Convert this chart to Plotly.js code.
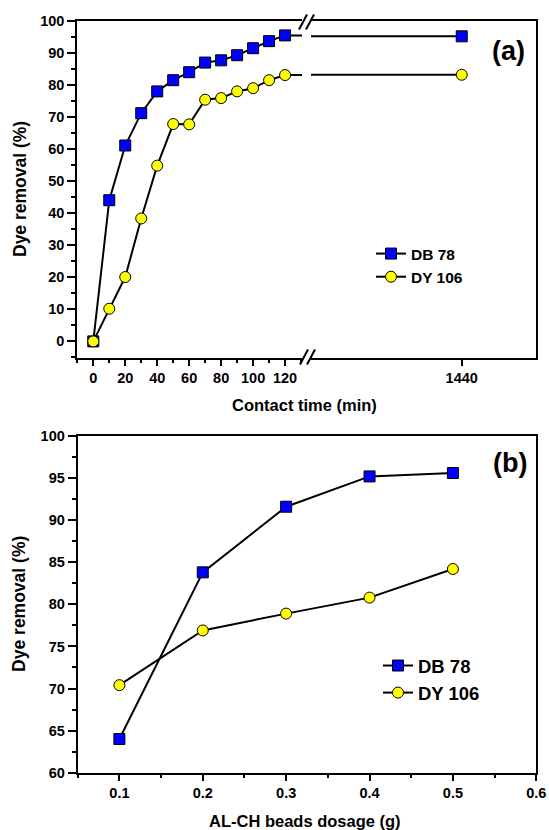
<!DOCTYPE html>
<html>
<head>
<meta charset="utf-8">
<script src="https://cdn.plot.ly/plotly-3.0.1.min.js"></script>
<style>html,body{margin:0;padding:0;background:#fff;}#chart{width:549px;height:830px;}</style>
</head>
<body>
<div id="chart"></div>
<script>
// ---- data ----
const contactTime = [0, 10, 20, 30, 40, 50, 60, 70, 80, 90, 100, 110, 120, 1440];
const db78Time   = [0, 44.1, 61.2, 71.3, 78.1, 81.6, 84.1, 87.1, 87.8, 89.4, 91.6, 93.8, 95.6, 95.3];
const dy106Time  = [0, 10.2, 20.1, 38.4, 54.9, 67.9, 67.8, 75.5, 76.0, 78.1, 79.1, 81.6, 83.2, 83.3];
const dosage     = [0.1, 0.2, 0.3, 0.4, 0.5];
const db78Dose   = [64.0, 83.8, 91.6, 95.2, 95.6];
const dy106Dose  = [70.4, 76.9, 78.9, 80.8, 84.2];
const seriesNames = ['DB 78', 'DY 106'];
const timeTicksLeft = [0, 20, 40, 60, 80, 100, 120];
const timeTicksRight = [1440];

// ---- layout helpers ----
const W = 549, H = 830;
const px = v => v / W;
const py = v => 1 - v / H;
const FONT = 'Liberation Sans, Arial, Helvetica, sans-serif';
const BLUE = '#0000ff', YEL = '#ffff00';

function styleFor(i) {
  return i === 0
    ? {symbol: 'square', color: BLUE}
    : {symbol: 'circle', color: YEL};
}
function mk(name, x, y, i, xa, ya, legend, show) {
  const s = styleFor(i);
  return {
    type: 'scatter', mode: 'lines+markers', name: name, x: x, y: y,
    xaxis: xa, yaxis: ya, legend: legend, showlegend: show,
    line: {color: '#000', width: 2},
    marker: {symbol: s.symbol, color: s.color, size: 11, line: {color: '#000', width: 1}},
    cliponaxis: true
  };
}

const traces = [
  mk(seriesNames[0], contactTime, db78Time, 0, 'x', 'y', 'legend', true),
  mk(seriesNames[1], contactTime, dy106Time, 1, 'x', 'y', 'legend', true),
  mk(seriesNames[0], contactTime, db78Time, 0, 'x2', 'y2', 'legend', false),
  mk(seriesNames[1], contactTime, dy106Time, 1, 'x2', 'y2', 'legend', false),
  mk(seriesNames[0], dosage, db78Dose, 0, 'x3', 'y3', 'legend2', true),
  mk(seriesNames[1], dosage, dy106Dose, 1, 'x3', 'y3', 'legend2', true)
];

const tickFont = {family: FONT, size: 14.5, color: '#000', weight: 'bold'};
const axBase = {
  showline: true, linecolor: '#000', linewidth: 2,
  showgrid: false, zeroline: false,
  ticks: 'outside', tickcolor: '#000', tickwidth: 2,
  tickfont: tickFont, automargin: false, fixedrange: true
};

const layout = {
  width: W, height: H,
  margin: {l: 0, r: 0, t: 0, b: 0},
  paper_bgcolor: '#fff', plot_bgcolor: '#fff',
  font: {family: FONT, color: '#000', weight: 'bold'},
  xaxis: Object.assign({}, axBase, {
    domain: [px(77.3), px(302)], range: [-10, 130.6], anchor: 'y',
    tickmode: 'array', tickvals: timeTicksLeft, ticklen: 6, mirror: true,
    minor: {dtick: 10, tick0: 0, ticks: 'outside', ticklen: 3, tickcolor: '#000', tickwidth: 2}
  }),
  xaxis2: Object.assign({}, axBase, {
    domain: [px(311), px(536.3)], range: [1345.8, 1486.6], anchor: 'y2',
    tickmode: 'array', tickvals: timeTicksRight, ticklen: 6, mirror: true
  }),
  yaxis: Object.assign({}, axBase, {
    domain: [py(357.7), py(21.3)], range: [-5.1, 100], anchor: 'x',
    dtick: 10, tick0: 0, ticklen: 8, mirror: false,
    minor: {dtick: 5, tick0: 0, ticks: 'outside', ticklen: 4, tickcolor: '#000', tickwidth: 2}
  }),
  yaxis2: Object.assign({}, axBase, {
    domain: [py(357.7), py(21.3)], range: [-5.1, 100], anchor: 'x2', side: 'right',
    ticks: '', showticklabels: false, mirror: false
  }),
  xaxis3: Object.assign({}, axBase, {
    domain: [px(77.7), px(536.3)], range: [0.05, 0.6], anchor: 'y3',
    dtick: 0.1, tick0: 0, ticklen: 6, mirror: true,
    minor: {dtick: 0.05, tick0: 0, ticks: 'outside', ticklen: 3, tickcolor: '#000', tickwidth: 2}
  }),
  yaxis3: Object.assign({}, axBase, {
    domain: [py(772.7), py(436)], range: [60, 100], anchor: 'x3',
    dtick: 5, tick0: 0, ticklen: 8, mirror: true,
    minor: {dtick: 2.5, tick0: 0, ticks: 'outside', ticklen: 4, tickcolor: '#000', tickwidth: 2}
  }),
  legend: {
    x: px(371), y: py(237), xanchor: 'left', yanchor: 'top',
    bgcolor: 'rgba(0,0,0,0)', borderwidth: 0,
    font: {family: FONT, size: 15.5, color: '#000', weight: 'bold'}
  },
  legend2: {
    x: px(378), y: py(647), xanchor: 'left', yanchor: 'top',
    bgcolor: 'rgba(0,0,0,0)', borderwidth: 0,
    font: {family: FONT, size: 18.5, color: '#000', weight: 'bold'}
  },
  annotations: [
    {text: '(a)', xref: 'paper', yref: 'paper', x: px(527), y: py(51), xanchor: 'right', yanchor: 'middle',
     showarrow: false, font: {family: FONT, size: 27, color: '#000', weight: 'bold'}},
    {text: '(b)', xref: 'paper', yref: 'paper', x: px(529), y: py(463), xanchor: 'right', yanchor: 'middle',
     showarrow: false, font: {family: FONT, size: 27, color: '#000', weight: 'bold'}},
    {text: 'Contact time (min)', xref: 'paper', yref: 'paper', x: px(304), y: py(405), xanchor: 'center', yanchor: 'middle',
     showarrow: false, font: {family: FONT, size: 16.5, color: '#000', weight: 'bold'}},
    {text: 'AL-CH beads dosage (g)', xref: 'paper', yref: 'paper', x: px(305), y: py(821), xanchor: 'center', yanchor: 'middle',
     showarrow: false, font: {family: FONT, size: 16.5, color: '#000', weight: 'bold'}},
    {text: 'Dye removal (%)', xref: 'paper', yref: 'paper', x: px(19.5), y: py(189.5), xanchor: 'center', yanchor: 'middle',
     textangle: -90, showarrow: false, font: {family: FONT, size: 17.5, color: '#000', weight: 'bold'}},
    {text: 'Dye removal (%)', xref: 'paper', yref: 'paper', x: px(19.5), y: py(604.4), xanchor: 'center', yanchor: 'middle',
     textangle: -90, showarrow: false, font: {family: FONT, size: 17.5, color: '#000', weight: 'bold'}}
  ],
  shapes: [
    // axis-break marks (bottom)
    {type: 'line', xref: 'paper', yref: 'paper', x0: px(300), y0: py(364.5), x1: px(308), y1: py(349.5), line: {color: '#000', width: 2}},
    {type: 'line', xref: 'paper', yref: 'paper', x0: px(307), y0: py(364.5), x1: px(315), y1: py(349.5), line: {color: '#000', width: 2}},
    // axis-break marks (top)
    {type: 'line', xref: 'paper', yref: 'paper', x0: px(299), y0: py(29.5), x1: px(307), y1: py(14.5), line: {color: '#000', width: 2}},
    {type: 'line', xref: 'paper', yref: 'paper', x0: px(306), y0: py(29.5), x1: px(314), y1: py(14.5), line: {color: '#000', width: 2}}
  ]
};

Plotly.newPlot('chart', traces, layout, {staticPlot: true, displayModeBar: false});
</script>
</body>
</html>
